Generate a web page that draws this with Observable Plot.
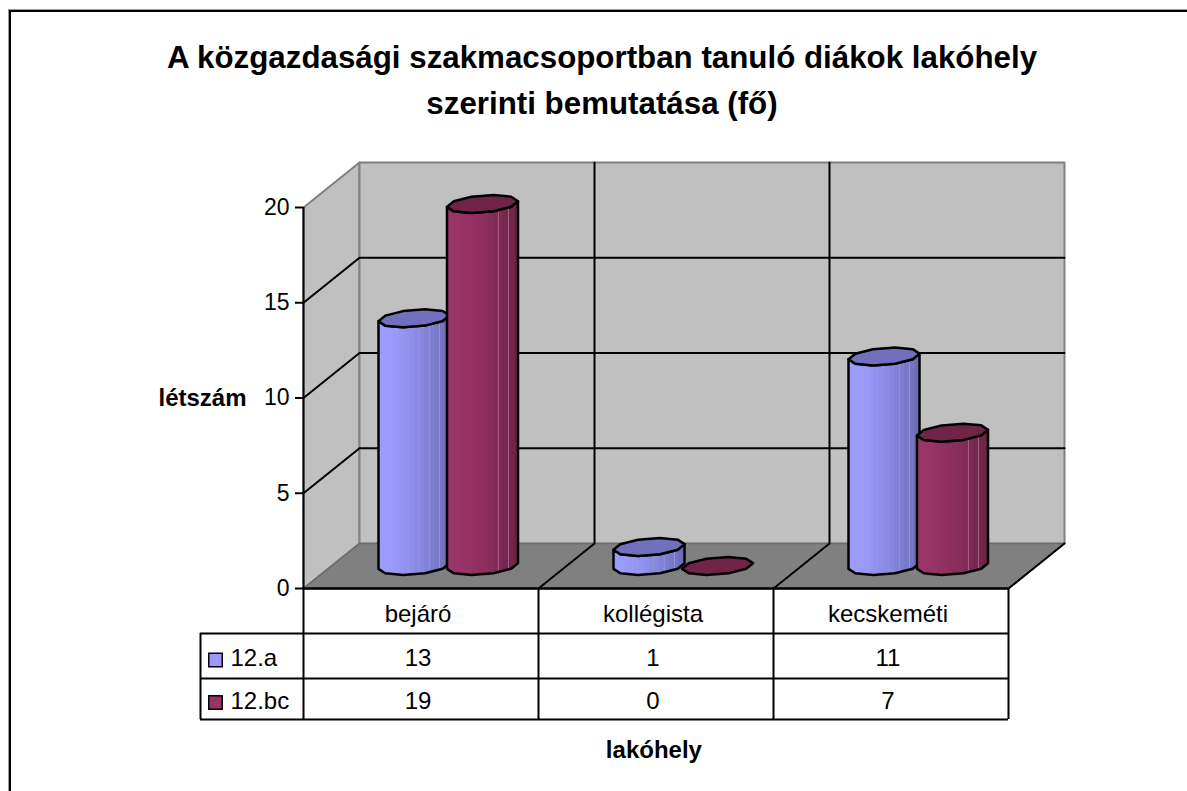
<!DOCTYPE html>
<html><head><meta charset="utf-8">
<script src="https://cdn.jsdelivr.net/npm/d3@7"></script>
<script src="https://cdn.jsdelivr.net/npm/@observablehq/plot@0.6"></script>
<style>
html,body{margin:0;padding:0;background:#fff;overflow:hidden}
#wrap{position:relative;width:1187px;height:791px;font-family:"Liberation Sans",Arial,sans-serif}
#frame{position:absolute;left:9px;top:10px;right:-5px;bottom:-5px;border-left:2.5px solid #000;border-top:2.5px solid #000;box-shadow:-1px -1px 0 #999}
#title{position:absolute;left:0;width:1204px;top:35px;text-align:center;font-weight:bold;font-size:31.3px;line-height:46px;color:#000}
#wrap svg{position:absolute;left:0;top:0;overflow:visible}
</style></head><body>
<div id="wrap"><div id="frame"></div><div id="title">A közgazdasági szakmacsoportban tanuló diákok lakóhely<br>szerinti bemutatása (fő)</div></div>
<script>
const categories = ["bejáró","kollégista","kecskeméti"];
const seriesNames = ["12.a","12.bc"];
const valuesA = [13,1,11];
const valuesBC = [19,0,7];
const yTicks = [0,5,10,15,20];
const yLabel = "létszám", xLabel = "lakóhely";

const W=1187,H=791,ML=303,MR=179,MT=207,MB=203;
const PX=(W-ML-MR)/3, PY=(H-MT-MB)/20;
const DX=56, DY=45;
const proj=(x,v,z=0)=>({x:x+z*DX/PX, y:v+z*DY/PY});
const ROW1=45, ROW2=90, ROW3=131;
const legendLeft=-103/PX, tableBottom=-ROW3/PY, rowTop=-ROW1/PY;

const poly=(pts,id=0)=>pts.map(p=>({...p,id}));
const backWall=[proj(0,0,1),proj(3,0,1),proj(3,20,1),proj(0,20,1),proj(0,0,1)];
const sideWall=[proj(0,0,0),proj(0,0,1),proj(0,20,1),proj(0,20,0),proj(0,0,0)];
const floor=[proj(0,0,0),proj(3,0,0),proj(3,0,1),proj(0,0,1),proj(0,0,0)];
const gridVals=yTicks.filter(v=>v>0&&v<20);
const gridLines=gridVals.flatMap((v,i)=>poly([proj(0,v,0),proj(0,v,1),proj(3,v,1)],i));
const catDiv=[1,2].flatMap((c,i)=>poly([proj(c,0,0),proj(c,0,1),proj(c,20,1)],i));

// cylinder geometry
const R=35.5, RZ=0.2, B=RZ*DX, A=Math.sqrt(R*R-B*B);
const N=10;
const tR=Math.atan2(B,A), tL=tR+Math.PI;
const ePoint=(cx,v,t)=>({x:cx+(A*Math.cos(t)+B*Math.sin(t)+0.5*DX)/PX, y:v+DY*(0.5+RZ*Math.sin(t))/PY});
const ring=(cx,v)=>d3.range(N+1).map(k=>ePoint(cx,v,tR+k*2*Math.PI/N));
const front=(cx,v)=>d3.range(N/2+1).map(k=>ePoint(cx,v,tL+k*2*Math.PI/N));
const body=(cx,v)=>{const b=front(cx,0),t=front(cx,v).reverse();return [...b,...t,b[0]];};
const OFF=[(413.5-303-DX/2)/PX,(482-303-DX/2)/PX];

const bodies=[valuesA,valuesBC].map((vs,s)=>vs.flatMap((v,i)=>v>0?poly(body(i+OFF[s],v),i):[]));
const tops=[valuesA,valuesBC].map((vs,s)=>vs.flatMap((v,i)=>poly(ring(i+OFF[s],v),i)));
const topFill=["#7070BE","#702548"];

function gradient(id,from,to,seam){
  const steps=14, seams=[8,10,12], stops=[];
  const mix=d3.interpolateRgb(from,to);
  for(let i=0;i<steps;i++){
    const c=mix(Math.pow(i/(steps-1),1.6)), a=i/steps, b=(i+1)/steps;
    if(seams.includes(i)){
      stops.push(`<stop offset="${a}" stop-color="${seam}"/><stop offset="${a+0.012}" stop-color="${seam}"/><stop offset="${a+0.012}" stop-color="${c}"/>`);
    } else stops.push(`<stop offset="${a}" stop-color="${c}"/>`);
    stops.push(`<stop offset="${b}" stop-color="${c}"/>`);
  }
  return `<linearGradient id="${id}" x1="0" x2="1" y1="0" y2="0">${stops.join("")}</linearGradient>`;
}
const defs=()=>{
  const g=document.createElementNS("http://www.w3.org/2000/svg","g");
  g.innerHTML=`<defs>${gradient("gA","#9C9CFF","#6E6EB8","#9090D8")}${gradient("gB","#9C3468","#6C2448","#A85C82")}</defs>`;
  return g;
};
const FS=24, TICKFS=23, CELLDX=-3;
const tx=(data,o)=>Plot.text(data,{fontFamily:"Liberation Sans",fill:"#000",fontSize:FS,...o});
const rows=[{n:seriesNames[0],vs:valuesA,dy:69.5,sw:71.5,c:"#9999FF"},{n:seriesNames[1],vs:valuesBC,dy:113,sw:114,c:"#993366"}];

const chart=Plot.plot({
  width:W,height:H,marginLeft:ML,marginRight:MR,marginTop:MT,marginBottom:MB,
  x:{domain:[0,3],axis:null},
  y:{domain:[0,20],axis:null},
  style:{background:"transparent",fontFamily:"Liberation Sans",overflow:"visible"},
  marks:[
    defs,
    Plot.line(sideWall,{x:"x",y:"y",fill:"#C0C0C0",stroke:"#808080",strokeWidth:2,curve:"linear"}),
    Plot.line(backWall,{x:"x",y:"y",fill:"#C0C0C0",stroke:"#808080",strokeWidth:2,curve:"linear"}),
    Plot.line(floor,{x:"x",y:"y",fill:"#808080",stroke:"#6a6a6a",strokeWidth:1.5,curve:"linear"}),
    Plot.line(gridLines,{x:"x",y:"y",z:"id",stroke:"#000",strokeWidth:2,curve:"linear"}),
    Plot.line(catDiv,{x:"x",y:"y",z:"id",stroke:"#000",strokeWidth:2,curve:"linear"}),
    Plot.line([proj(3,0,0),proj(3,0,1)],{x:"x",y:"y",stroke:"#000",strokeWidth:2,curve:"linear"}),
    ...[0,1].flatMap(s=>[
      Plot.line(bodies[s],{x:"x",y:"y",z:"id",fill:s?"url(#gB)":"url(#gA)",stroke:"#000",strokeWidth:2.5,curve:"linear",strokeLinejoin:"round"}),
      Plot.line(tops[s],{x:"x",y:"y",z:"id",fill:topFill[s],stroke:"#000",strokeWidth:2.5,curve:"linear",strokeLinejoin:"round"})
    ]),
    // axis and table grid
    Plot.ruleX([0],{y1:tableBottom,y2:20,stroke:"#000",strokeWidth:2}),
    Plot.ruleY([0],{x1:0,x2:3,stroke:"#000",strokeWidth:2.5}),
    Plot.axisY({ticks:yTicks,tickSize:8,tickPadding:6,fontSize:TICKFS,fontFamily:"Liberation Sans",label:null,tickFormat:d=>d,strokeWidth:2}),
    tx([yLabel],{x:0,y:10,dx:-101,text:d=>d,fontWeight:"bold",letterSpacing:"2.6px"}),
    Plot.ruleX([1,2,3],{y1:tableBottom,y2:0,stroke:"#000",strokeWidth:2}),
    Plot.ruleX([legendLeft],{y1:tableBottom,y2:rowTop,stroke:"#000",strokeWidth:2}),
    ...[ROW1,ROW2,ROW3].map(r=>Plot.ruleY([0],{x1:legendLeft,x2:3,dy:r,stroke:"#000",strokeWidth:2})),
    tx(categories,{x:(d,i)=>i+0.5,y:()=>0,dx:CELLDX,dy:26,text:d=>d}),
    ...rows.flatMap(r=>[
      tx(r.vs,{x:(d,i)=>i+0.5,y:()=>0,dx:CELLDX,dy:r.dy,text:d=>d}),
      tx([r.n],{x:()=>legendLeft,y:()=>0,dx:30,dy:r.dy,text:d=>d,textAnchor:"start"}),
      Plot.dot([r.n],{x:()=>legendLeft,y:()=>0,dx:15,dy:r.sw,symbol:"square",r:7.6,fill:r.c,stroke:"#000",strokeWidth:1.5})
    ]),
    tx([xLabel],{x:1.491,y:()=>0,dy:162,text:d=>d,fontWeight:"bold",letterSpacing:"2.6px"}),
  ]
});
document.getElementById("wrap").appendChild(chart);
</script></body></html>
